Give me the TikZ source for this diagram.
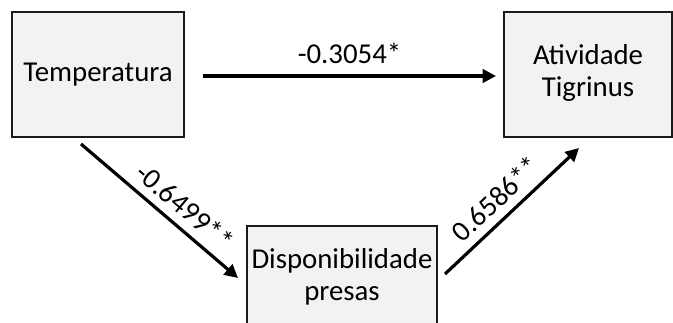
\documentclass[tikz,border=0pt]{standalone}
\usepackage{fontspec}
\setmainfont{Carlito}
\usetikzlibrary{arrows.meta}
\definecolor{boxfill}{HTML}{F2F2F2}
\definecolor{boxline}{HTML}{1A1A1A}
\begin{document}
\begin{tikzpicture}[x=0.75pt,y=-0.75pt,
  every node/.style={font=\fontsize{21.6}{24}\selectfont, inner sep=0pt},
  varbox/.style={draw=boxline, line width=0.8pt, fill=boxfill, align=center},
  pathlink/.style={line width=2.4pt, -{Triangle[length=10pt,width=10pt]}},
  coef/.style={sloped, above=6pt}]
\useasboundingbox (0,0) rectangle (673,322);
\node[varbox, minimum width=172*0.75pt, minimum height=125*0.75pt] (temp) at (98,74.5) {Temperatura};
\node[varbox, minimum width=168*0.75pt, minimum height=125*0.75pt, text depth=6pt] (ativ) at (588,74.5) {Atividade\\Tigrinus};
\node[varbox, minimum width=190*0.75pt, minimum height=110*0.75pt, text depth=10pt] (disp) at (342,281) {Disponibilidade\\presas};
\coordinate (h1) at (203,76);
\coordinate (h2) at (496,76);
\coordinate (d1) at (81,144);
\coordinate (d2) at (238,278);
\coordinate (u1) at (445,274);
\coordinate (u2) at (579,148);
\draw[pathlink] (h1) -- node[above=8pt] {-0.3054*} (h2);
\draw[pathlink] (d1) -- node[coef, pos=0.58] {-0.6499**} (d2);
\draw[pathlink] (u1) -- node[coef, pos=0.48] {0.6586**} (u2);
\end{tikzpicture}
\end{document}
